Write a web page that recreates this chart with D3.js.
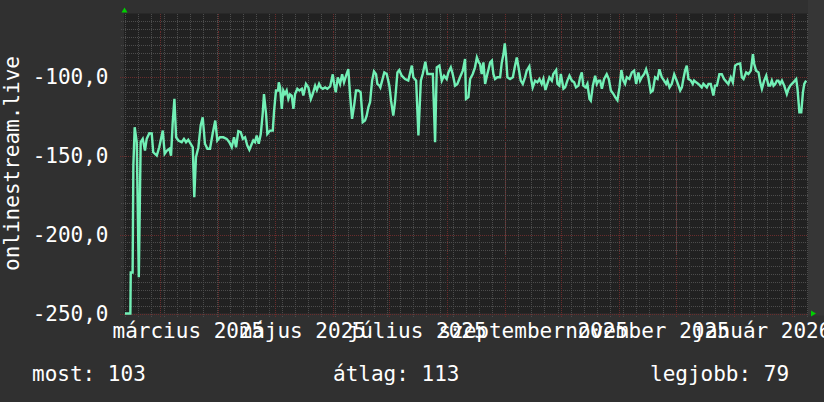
<!DOCTYPE html>
<html>
<head>
<meta charset="utf-8">
<script src="https://cdn.jsdelivr.net/npm/d3@7"></script>
<style>
  html, body { margin: 0; padding: 0; background: #303030; }
  svg { display: block; }
  text { font-family: "DejaVu Sans Mono", monospace; font-size: 21px; fill: #ffffff; }
</style>
</head>
<body>
<div id="chart"></div>
<script>
// day offsets from the left edge of the graph (2025-02-09 15:00 UTC)
var days = [
  0.5,3.4,3.6,4.6,5.0,5.7,6.8,7.9,8.9,10.0,
  11.2,12.1,13.5,14.8,15.6,17.5,18.8,20.7,21.7,22.8,
  24.2,25.1,26.0,26.9,27.8,29.0,30.8,32.0,33.1,34.3,
  35.6,36.7,37.5,38.4,39.7,40.9,42.0,43.2,44.5,45.9,
  47.3,48.7,49.8,51.2,53.0,54.8,56.2,57.5,58.7,59.8,
  61.0,62.3,63.4,64.6,65.8,66.9,68.2,69.0,69.9,70.8,
  71.9,73.0,74.0,74.7,75.8,76.5,77.9,79.4,80.1,81.1,
  82.2,82.6,83.3,84.2,85.0,85.9,86.8,87.7,88.6,89.5,
  90.4,91.3,92.5,93.6,94.9,95.7,97.1,98.4,99.7,100.7,
  102.0,102.9,104.1,105.0,106.1,107.3,108.5,110.0,111.4,112.1,
  113.0,114.1,115.3,116.4,117.4,118.5,119.7,120.6,121.7,122.8,
  123.8,125.1,126.3,127.4,128.6,129.5,130.4,131.3,132.4,133.4,
  134.5,135.2,136.3,136.8,138.9,140.2,141.6,142.5,143.7,144.6,
  145.9,146.9,148.2,150.0,151.7,153.6,154.4,155.9,157.1,158.4,
  159.4,160.8,161.9,163.3,164.8,166.0,166.9,168.3,169.6,170.8,
  172.2,173.1,174.4,175.4,176.7,177.9,179.3,180.8,182.0,182.5,
  183.8,184.7,186.1,187.3,188.3,189.3,190.0,190.9,191.8,192.7,
  193.9,195.4,196.3,197.1,198.0,199.2,200.7,201.6,202.5,203.2,
  203.9,204.6,206.0,207.5,208.5,209.6,210.7,211.7,212.8,214.0,
  214.9,216.3,217.1,218.1,219.4,220.6,221.7,222.9,223.8,224.9,
  225.9,227.0,228.3,229.1,230.6,231.3,232.3,233.1,234.5,235.4,
  236.6,237.7,239.0,240.2,241.2,242.5,243.4,244.3,245.1,246.4,
  247.3,248.4,249.1,250.2,251.4,252.3,253.2,254.1,255.0,256.2,
  257.6,258.7,259.8,261.2,262.1,263.3,264.4,265.4,266.5,267.4,
  268.3,269.7,271.0,272.2,273.3,274.5,275.4,276.3,277.6,278.6,
  279.8,281.1,282.2,283.4,284.7,285.7,287.0,288.2,289.3,290.0,
  291.1,292.3,293.6,294.6,295.9,296.8,297.7,298.5,299.4,300.3,
  301.2,302.5,303.5,304.2,305.3,306.5,307.4,308.3,309.2,310.1,
  311.0,311.9,313.1,314.5,315.4,316.4,317.7,319.0,320.2,321.7,
  322.5,323.8,324.9,326.1,327.3,328.8,329.7,330.6,332.0,333.2,
  334.5,335.6,336.3,337.3,338.6,339.5,340.4,341.6,342.7,343.9,
  344.8,345.7,346.6,347.5,348.4,349.2,350.1,351.1,352.3,353.7,
  354.6,355.5,356.4,357.2,358.7,359.4,360.4,361.4,362.3,363.0,364.0
];
var values = [
  -250,-250,-224,-224,-156,-132,-141.5,-227,-141.5,-139.4,
  -146.8,-139.4,-135.9,-136,-147.9,-150,-144.7,-134.1,-148.9,-147,
  -145.7,-150,-128.9,-114.1,-138.4,-140.4,-141.5,-139.4,-141.5,-140,
  -142.5,-144.7,-176.3,-151,-144.7,-131,-125.7,-142.5,-145.7,-145.7,
  -136.2,-127.8,-140.4,-138.4,-138.4,-139.4,-141.5,-144.7,-138.4,-144.7,
  -134.6,-135.2,-139.4,-138.4,-143.6,-146.3,-142.5,-140.4,-141.5,-137.3,
  -142.5,-136.2,-123.6,-111,-123.6,-136.2,-134.2,-134.2,-121.5,-108.8,
  -108.8,-103.6,-106.8,-120.4,-108.8,-111,-108.8,-114.1,-111.2,-112,
  -120.4,-111,-107.7,-108.8,-107.7,-112,-104.6,-106.8,-114.1,-111,
  -105.7,-108.5,-104.6,-106.8,-107.7,-106.8,-107.7,-106.2,-98.5,-104.6,
  -109.9,-100.4,-104.6,-98.5,-103.6,-99.4,-95.3,-111,-126.7,-118.3,
  -108.8,-108.8,-109.9,-128.9,-127.8,-124.7,-119.4,-116.2,-102.5,-96.7,
  -98.5,-104.6,-105.7,-106.8,-97.3,-98.3,-105.7,-115.2,-124.7,-116.2,
  -97.3,-95.8,-99.4,-101.5,-102.5,-93,-100.4,-102.5,-137.3,-102.5,
  -98.3,-90.6,-98.3,-98.3,-98.3,-141.5,-94.1,-93,-102.5,-99.4,
  -101.5,-97.3,-94.1,-98.3,-105.7,-104.6,-100.4,-96.2,-88.8,-114.1,
  -113,-101.5,-98.3,-94.1,-87.8,-91,-92,-98.3,-91,-104.6,
  -98.3,-91,-89.9,-98.3,-101.5,-100.4,-100.4,-91,-85.7,-78.9,
  -87.8,-100.4,-101.5,-100.4,-94.1,-87.8,-95.3,-102.5,-104.6,-100.4,
  -96.2,-93.4,-100.4,-106.8,-102.5,-103.6,-101.5,-104.6,-101.5,-108.4,
  -104.6,-100.4,-102.5,-98.3,-95.8,-104.6,-105.7,-98.3,-107.7,-106.8,
  -102.5,-99.4,-102.5,-103.6,-106.8,-105.7,-100.4,-97.3,-105.7,-106.8,
  -104.6,-114.1,-115.2,-105.7,-99.4,-104.6,-102.5,-102.5,-107.7,-101.5,
  -98.5,-101.5,-108.8,-111,-113,-114.9,-106.8,-95.8,-102.5,-104.6,
  -100.4,-101.5,-97.3,-96.2,-104.6,-97.3,-102.5,-100.4,-98.3,-95.3,
  -100.4,-109.9,-108.8,-100.4,-101.5,-95.3,-100.4,-102.5,-104.6,-102.5,
  -106.8,-104.6,-98.5,-101.5,-105.7,-108.8,-106.8,-101.5,-96.2,-93,
  -101.5,-102.5,-104.6,-102.5,-103.6,-104.6,-105.7,-106.8,-104.6,-105.7,
  -106.8,-104.6,-104.6,-112,-105.7,-105.7,-98.5,-98.5,-101.5,-103.6,
  -104.6,-100.4,-103.6,-93,-92,-91.6,-100.4,-101.5,-97.3,-98.3,
  -96.2,-85.7,-92,-96.2,-97.3,-103.6,-107.7,-102.5,-99.4,-105.7,
  -105.7,-102.5,-105.7,-104.6,-102.5,-102.5,-104.6,-102.5,-105.7,-111,
  -107.7,-105.7,-104.6,-103.6,-101.5,-107.7,-122.5,-122.5,-109.9,-104.6,-102.5
];

var yTicks = [-250, -200, -150, -100];
var labelMonths = ['2025-03-01','2025-05-01','2025-07-01','2025-09-01','2025-11-01','2026-01-01'];
var monthLabels = ['március 2025','május 2025','július 2025','szeptember 2025','november 2025','január 2026'];
var legendNames = ['most', 'átlag', 'legjobb'];
var legendValues = [103, 113, 79];
var yTitle = 'onlinestream.live';

var W = 824, H = 402;
var plot = {left: 124, right: 808, top: 13.5, bottom: 313.5};
var DAY = 86400000;
var t0 = Date.UTC(2025, 1, 9, 15);
var t1 = t0 + 365*DAY;

var x = d3.scaleUtc().domain([new Date(t0), new Date(t1)]).range([plot.left, plot.right]);
var y = d3.scaleLinear().domain([-250, -60]).range([plot.bottom, plot.top]);

//hungarian style numbers, plain hyphen for the minus
var huLocale = d3.formatLocale({decimal: ',', thousands: ' ', grouping: [3], currency: ['', ' Ft'], minus: '-'});
var fmt = huLocale.format('.1f');

var svg = d3.select('#chart').append('svg')
	.attr('width', W)
	.attr('height', H)

svg.append('rect').attr('width', W).attr('height', H).attr('fill', '#303030');
//slightly lighter strip right of the graph
svg.append('rect')
	.attr('x', plot.right).attr('y', 0)
	.attr('width', W - plot.right).attr('height', plot.bottom + 2)
	.attr('fill', '#363636');
svg.append('rect')
	.attr('x', plot.left).attr('y', plot.top)
	.attr('width', plot.right - plot.left).attr('height', plot.bottom - plot.top)
	.attr('fill', '#212121');

var grid = svg.append('g').attr('shape-rendering', 'crispEdges');
var px = function(v){ return Math.round(v) + 0.5; };

// minor grid: weeks and every 5 units
var weeks = d3.utcMonday.range(new Date(t0), new Date(t1));
var months = d3.utcMonth.range(new Date(t0), new Date(t1));
var yMinor = d3.range(-245, -60, 5).filter(function(v){ return yTicks.indexOf(v) < 0; });

grid.selectAll('.vmin').data(weeks).enter().append('line')
	.attr('x1', function(d){ return px(x(d)); })
	.attr('x2', function(d){ return px(x(d)); })
	.attr('y1', plot.top).attr('y2', plot.bottom + 3)
	.attr('stroke', '#4c4c4c').attr('stroke-dasharray', '1,1');
grid.selectAll('.hmin').data(yMinor).enter().append('line')
	.attr('x1', plot.left - 3).attr('x2', plot.right)
	.attr('y1', function(d){ return px(y(d)); })
	.attr('y2', function(d){ return px(y(d)); })
	.attr('stroke', '#4c4c4c').attr('stroke-dasharray', '1,1');

// major grid: month starts and every 50 units
grid.selectAll('.vmaj').data(months).enter().append('line')
	.attr('x1', function(d){ return px(x(d)); })
	.attr('x2', function(d){ return px(x(d)); })
	.attr('y1', plot.top).attr('y2', plot.bottom + 4)
	.attr('stroke', '#6a2c2c').attr('stroke-dasharray', '1,1');
grid.selectAll('.hmaj').data(yTicks).enter().append('line')
	.attr('x1', plot.left - 4).attr('x2', plot.right)
	.attr('y1', function(d){ return px(y(d)); })
	.attr('y2', function(d){ return px(y(d)); })
	.attr('stroke', '#6a2c2c').attr('stroke-dasharray', '1,1');

// data line
var pts = days.map(function(d, i){ return {t: new Date(t0 + d*DAY), v: values[i]}; });
var line = d3.line()
	.x(function(d){ return x(d.t); })
	.y(function(d){ return y(d.v); });
svg.append('path')
	.datum(pts)
	.attr('d', line)
	.attr('fill', 'none')
	.attr('stroke', '#72f0b6')
	.attr('stroke-width', 2.4)
	.attr('stroke-linejoin', 'miter');

// y labels
svg.selectAll('.ylab').data(yTicks).enter().append('text')
	.attr('x', 108.5)
	.attr('y', function(d){ return y(d) + 7.5; })
	.attr('text-anchor', 'end')
	.text(function(d){ return fmt(d); });

// month labels, centered half a month after the month start
svg.selectAll('.xlab').data(labelMonths).enter().append('text')
	.attr('x', function(d){ return x(new Date(Date.parse(d + 'T00:00:00Z') + 15*DAY)); })
	.attr('y', 338)
	.attr('text-anchor', 'middle')
	.text(function(d, i){ return monthLabels[i]; });

// vertical title
svg.append('text')
	.attr('transform', 'translate(19,' + (plot.top + plot.bottom)/2 + ') rotate(-90)')
	.attr('text-anchor', 'middle')
	.text(yTitle);

// legend
var legendX = [32, 333, 650];
svg.selectAll('.leg').data(legendNames).enter().append('text')
	.attr('x', function(d, i){ return legendX[i]; })
	.attr('y', 380.5)
	.text(function(d, i){ return d + ': ' + legendValues[i]; });

// arrows at the axis ends
svg.append('path')
	.attr('d', 'M' + (plot.left - 2.5) + ',12.5 L' + (plot.left + 3.5) + ',12.5 L' + (plot.left + 0.5) + ',7.5 Z')
	.attr('fill', '#00d000');
svg.append('path')
	.attr('d', 'M' + (plot.right + 3) + ',' + (plot.bottom - 3) + ' L' + (plot.right + 3) + ',' + (plot.bottom + 3) + ' L' + (plot.right + 8) + ',' + plot.bottom + ' Z')
	.attr('fill', '#00d000');
</script>
</body>
</html>
